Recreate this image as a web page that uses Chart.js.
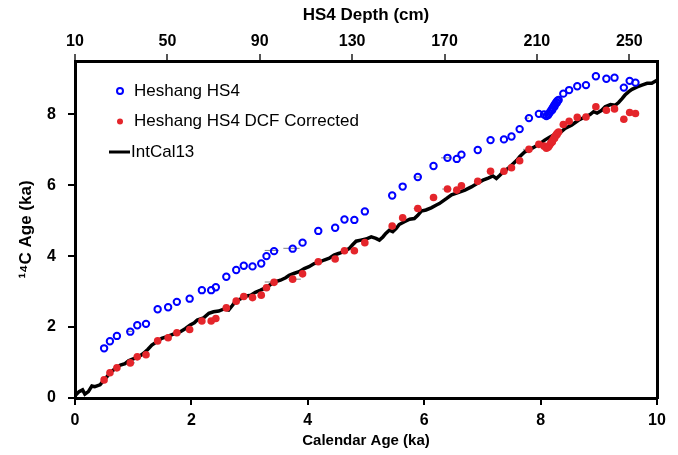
<!DOCTYPE html>
<html>
<head>
<meta charset="utf-8">
<script src="https://cdn.jsdelivr.net/npm/chart.js@4.4.1/dist/chart.umd.min.js"></script>
<style>
  body { margin: 0; background: #fff; }
  #wrap { width: 678px; height: 455px; }
</style>
</head>
<body>
<div id="wrap"><canvas id="ageChart" width="678" height="455"></canvas></div>
<script>
// Heshang HS4 samples (calendar age ka, 14C age ka)
const hs4Age = [0.50, 0.60, 0.72, 0.95, 1.07, 1.22, 1.42, 1.60, 1.75, 1.97, 2.18, 2.34, 2.42, 2.60, 2.77, 2.90, 3.05, 3.20, 3.29, 3.42, 3.74, 3.91, 4.18, 4.47, 4.63, 4.80, 4.98, 5.45, 5.63, 5.89, 6.16, 6.40, 6.56, 6.64, 6.92, 7.14, 7.37, 7.50, 7.64, 7.80, 7.97, 8.06,
  8.10, 8.13, 8.15, 8.17, 8.19, 8.21, 8.23, 8.25, 8.27, 8.29, 8.31, 8.28, 8.24, 8.20,
  8.39, 8.49, 8.63, 8.78, 8.95, 9.13, 9.27, 9.43, 9.53, 9.63];
const hs4C14 = [1.40, 1.60, 1.75, 1.87, 2.05, 2.09, 2.50, 2.56, 2.71, 2.80, 3.04, 3.04, 3.12, 3.42, 3.61, 3.73, 3.71, 3.79, 4.00, 4.14, 4.21, 4.38, 4.71, 4.80, 5.03, 5.02, 5.26, 5.71, 5.96, 6.23, 6.54, 6.77, 6.74, 6.86, 6.99, 7.27, 7.29, 7.37, 7.58, 7.89, 8.01, 7.99,
  7.95, 7.98, 8.03, 8.08, 8.13, 8.18, 8.24, 8.29, 8.34, 8.38, 8.40, 8.32, 8.22, 8.12,
  8.58, 8.68, 8.79, 8.82, 9.07, 9.00, 9.03, 8.75, 8.94, 8.89];
// DCF corrected
const dcfC14 = [0.51, 0.71, 0.85, 0.99, 1.16, 1.22, 1.61, 1.70, 1.84, 1.93, 2.17, 2.17, 2.24, 2.54, 2.73, 2.86, 2.83, 2.90, 3.11, 3.26, 3.35, 3.50, 3.84, 3.92, 4.15, 4.15, 4.38, 4.85, 5.08, 5.34, 5.65, 5.89, 5.86, 5.98, 6.11, 6.39, 6.39, 6.49, 6.69, 7.01, 7.15, 7.10,
  7.04, 7.07, 7.12, 7.17, 7.22, 7.27, 7.33, 7.38, 7.43, 7.47, 7.50, 7.42, 7.32, 7.22,
  7.71, 7.80, 7.91, 7.92, 8.21, 8.11, 8.15, 7.86, 8.05, 8.02];

// IntCal13 curve
const calAge = [0.00, 0.07, 0.13, 0.17, 0.23, 0.29, 0.34, 0.43, 0.49, 0.55, 0.60, 0.69, 0.78, 0.86, 0.92, 1.01, 1.09, 1.18, 1.25, 1.32, 1.41, 1.49, 1.58, 1.69, 1.81, 1.90, 1.98, 2.05, 2.10, 2.21, 2.30, 2.38, 2.47, 2.56, 2.64, 2.70, 2.76, 2.84, 2.93, 3.02, 3.10, 3.19, 3.28, 3.36, 3.45, 3.53, 3.62, 3.68, 3.76, 3.85, 3.94, 4.02, 4.11, 4.17, 4.28, 4.37, 4.45, 4.54, 4.63, 4.71, 4.77, 4.83, 4.91, 5.00, 5.09, 5.17, 5.23, 5.29, 5.34, 5.40, 5.46, 5.52, 5.57, 5.66, 5.75, 5.83, 5.89, 5.95, 6.03, 6.12, 6.21, 6.26, 6.38, 6.47, 6.58, 6.70, 6.81, 6.93, 7.01, 7.10, 7.18, 7.24, 7.30, 7.36, 7.44, 7.50, 7.59, 7.64, 7.73, 7.82, 7.90, 7.99, 8.07, 8.16, 8.28, 8.35, 8.42, 8.53, 8.65, 8.76, 8.85, 8.91, 8.97, 9.05, 9.11, 9.20, 9.28, 9.34, 9.40, 9.45, 9.51, 9.57, 9.66, 9.74, 9.83, 9.91, 10.00];
const calC14 = [0.06, 0.18, 0.23, 0.11, 0.18, 0.34, 0.32, 0.37, 0.49, 0.60, 0.71, 0.83, 0.93, 0.97, 1.05, 1.11, 1.16, 1.26, 1.37, 1.49, 1.59, 1.68, 1.73, 1.80, 1.87, 1.96, 2.06, 2.12, 2.20, 2.26, 2.39, 2.43, 2.45, 2.51, 2.48, 2.60, 2.73, 2.79, 2.87, 2.90, 2.98, 3.04, 3.11, 3.20, 3.28, 3.32, 3.39, 3.46, 3.51, 3.56, 3.65, 3.70, 3.79, 3.81, 3.89, 3.94, 4.03, 4.08, 4.14, 4.21, 4.32, 4.42, 4.45, 4.48, 4.54, 4.50, 4.45, 4.54, 4.64, 4.73, 4.69, 4.78, 4.89, 4.97, 5.04, 5.06, 5.15, 5.27, 5.30, 5.36, 5.44, 5.48, 5.62, 5.73, 5.79, 5.86, 5.95, 6.07, 6.14, 6.20, 6.26, 6.19, 6.28, 6.38, 6.47, 6.56, 6.70, 6.80, 6.94, 7.01, 7.08, 7.17, 7.27, 7.36, 7.46, 7.50, 7.60, 7.69, 7.83, 7.92, 7.99, 8.07, 8.03, 8.11, 8.21, 8.27, 8.25, 8.33, 8.44, 8.54, 8.63, 8.70, 8.77, 8.82, 8.87, 8.87, 8.96];

// small horizontal age error bars
const errFrom = [0.88, 0.92, 3.26, 3.58, 3.26, 3.67, 5.82, 5.82, 6.29, 6.31, 7.72, 7.70];
const errTo   = [0.98, 1.03, 3.50, 3.86, 3.48, 3.88, 5.96, 5.96, 6.47, 6.47, 7.80, 7.80];
const errC14  = [1.88, 0.99, 4.16, 4.22, 3.27, 3.35, 6.23, 5.34, 6.77, 5.89, 7.89, 7.01];

// top axis
const depthTicks = [10, 50, 90, 130, 170, 210, 250];

const FONT = "'Liberation Sans', Arial, sans-serif";
Chart.defaults.font.family = FONT;
Chart.defaults.color = '#000';

const errPts = [];
errFrom.forEach((v, i) => {
  errPts.push({x: v, y: errC14[i]}, {x: errTo[i], y: errC14[i]}, {x: NaN, y: NaN});
});

const data = {
  datasets: [
    {
      label: 'Heshang HS4',
      data: hs4Age.map((v, i) => ({x: v, y: hs4C14[i]})),
      pointStyle: 'circle',
      pointRadius: 3.2,
      pointBorderWidth: 2,
      pointBorderColor: '#0000ff',
      pointBackgroundColor: 'rgba(255,255,255,0)',
      showLine: false
    },
    {
      label: 'Heshang HS4 DCF Corrected',
      data: hs4Age.map((v, i) => ({x: v, y: dcfC14[i]})),
      pointRadius: 3.8,
      pointBorderWidth: 0,
      pointBackgroundColor: '#e4252b',
      pointBorderColor: '#e4252b',
      showLine: false
    },
    {
      label: 'IntCal13',
      data: calAge.map((v, i) => ({x: v, y: calC14[i]})),
      showLine: true,
      borderColor: '#000',
      borderWidth: 3.5,
      pointRadius: 0,
      tension: 0
    },
    {
      label: 'err',
      data: errPts,
      showLine: true,
      spanGaps: false,
      borderColor: '#808080',
      borderWidth: 1,
      pointRadius: 0
    }
  ]
};

// legend drawn inside the plot, top left
const insideLegend = {
  id: 'insideLegend',
  afterDraw(chart) {
    const ctx = chart.ctx;
    const a = chart.chartArea;
    const mx = a.left + 45, tx = a.left + 59;
    const rows = [a.top + 30, a.top + 60.5, a.top + 91];
    ctx.save();
    ctx.font = '17px ' + FONT;
    ctx.fillStyle = '#000';
    ctx.textBaseline = 'middle';
    // row 1
    ctx.beginPath();
    ctx.arc(mx, rows[0], 3, 0, Math.PI * 2);
    ctx.strokeStyle = '#0000ff';
    ctx.lineWidth = 2;
    ctx.stroke();
    ctx.fillText(chart.data.datasets[0].label, tx, rows[0]);
    // row 2
    ctx.beginPath();
    ctx.arc(mx, rows[1], 3, 0, Math.PI * 2);
    ctx.fillStyle = '#e4252b';
    ctx.fill();
    ctx.fillStyle = '#000';
    ctx.fillText(chart.data.datasets[1].label, tx, rows[1]);
    // row 3
    ctx.beginPath();
    ctx.moveTo(mx - 11, rows[2]);
    ctx.lineTo(mx + 10, rows[2]);
    ctx.strokeStyle = '#000';
    ctx.lineWidth = 3;
    ctx.stroke();
    ctx.fillText(chart.data.datasets[2].label, mx + 11, rows[2]);
    ctx.restore();
  }
};

const config = {
  type: 'scatter',
  data: data,
  options: {
    responsive: false,
    animation: false,
    layout: { padding: 0 },
    plugins: {
      legend: { display: false },
      tooltip: { enabled: false }
    },
    scales: {
      x: {
        type: 'linear',
        position: 'bottom',
        min: 0,
        max: 10,
        ticks: {
          stepSize: 2,
          font: { size: 16, weight: 'bold' },
          padding: 6
        },
        grid: { drawOnChartArea: false, tickLength: 7, color: '#000', lineWidth: 2 },
        border: { color: '#000', width: 3 },
        title: {
          display: true,
          text: 'Calendar Age (ka)',
          font: { size: 15, weight: 'bold' },
          padding: { top: 0, bottom: 5 }
        },
        afterFit: (s) => { s.height = 57; }
      },
      x2: {
        type: 'linear',
        position: 'top',
        min: 10,
        max: 262,
        afterBuildTicks: (s) => { s.ticks = depthTicks.map(v => ({ value: v })); },
        ticks: {
          font: { size: 16, weight: 'bold' },
          padding: 3
        },
        grid: { drawOnChartArea: false, tickLength: 7, color: '#555', lineWidth: 2 },
        border: { color: '#000', width: 3 },
        title: {
          display: true,
          text: 'HS4 Depth (cm)',
          font: { size: 17, weight: 'bold' },
          padding: { top: 5, bottom: 0 }
        },
        afterFit: (s) => { s.height = 61; }
      },
      y: {
        type: 'linear',
        position: 'left',
        min: 0,
        max: 9.5,
        ticks: {
          stepSize: 2,
          includeBounds: false,
          font: { size: 16, weight: 'bold' },
          padding: 12
        },
        grid: { drawOnChartArea: false, tickLength: 7, color: '#000', lineWidth: 2 },
        border: { color: '#000', width: 3 },
        title: {
          display: true,
          text: '¹⁴C Age (ka)',
          font: { size: 17, weight: 'bold' },
          padding: { top: 16, bottom: 0 }
        },
        afterFit: (s) => { s.width = 75; }
      },
      y2: {
        type: 'linear',
        position: 'right',
        min: 0,
        max: 9.5,
        ticks: { display: false },
        grid: { display: false },
        border: { color: '#000', width: 3 },
        afterFit: (s) => { s.width = 21; }
      }
    }
  },
  plugins: [insideLegend]
};

const ageChart = new Chart(document.getElementById('ageChart'), config);
</script>
</body>
</html>
